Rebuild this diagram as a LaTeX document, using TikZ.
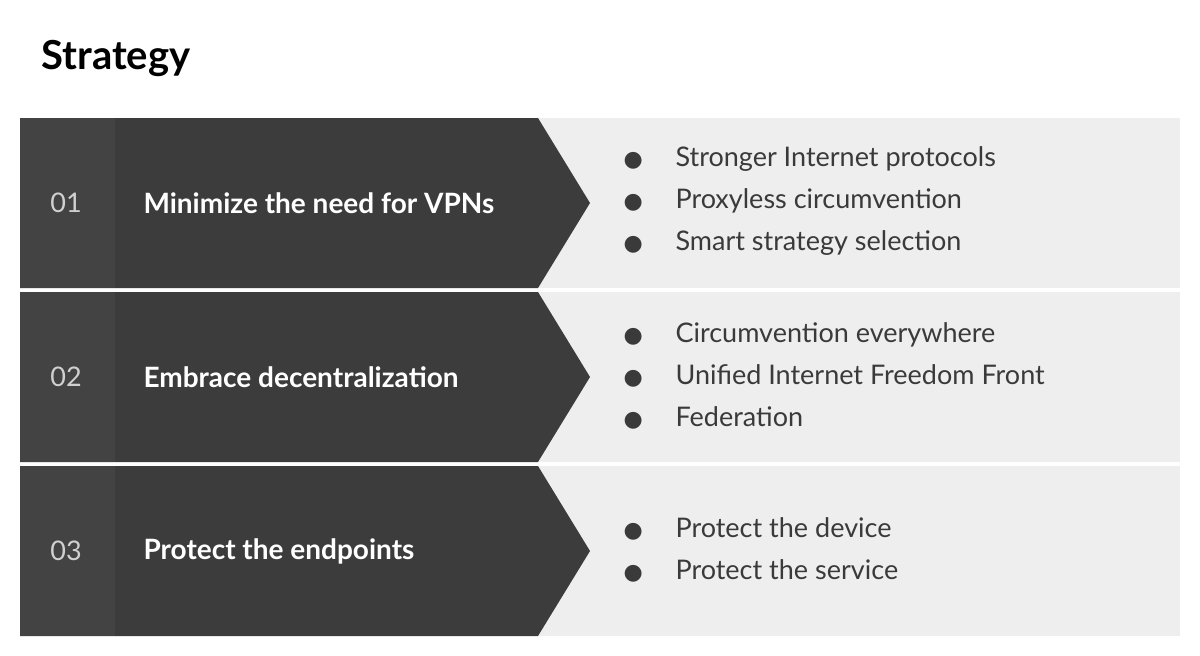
\documentclass[tikz,border=0pt]{standalone}
\usepackage{fontspec}
\setmainfont{Lato}
\newfontfamily\symfont{DejaVu Sans}
\usetikzlibrary{positioning}
\definecolor{darkrow}{HTML}{3C3C3C}
\definecolor{numstrip}{HTML}{434343}
\definecolor{lightrow}{HTML}{EEEEEE}
\definecolor{numtext}{HTML}{D0D0D0}
\definecolor{bullettext}{HTML}{3A3A3A}
\newcommand{\dotitem}{\makebox[52pt][l]{\symfont\fontsize{22}{42}\selectfont ●}}

\begin{document}
\begin{tikzpicture}[x=1pt,y=-1pt,
    numlabel/.style={text=numtext, font=\fontsize{27}{30}\selectfont\addfontfeature{Weight=300}, anchor=center},
    headlabel/.style={text=white, font=\fontsize{28}{32}\selectfont\bfseries, anchor=west},
    bulletlist/.style={text=bullettext, font=\fontsize{27}{42}\selectfont, anchor=west, align=left}
]
\useasboundingbox (0,0) rectangle (1200,656);
\fill[white] (0,0) rectangle (1200,656);

\node[anchor=west, font=\fontsize{40}{44}\selectfont\bfseries] (title) at (38,58) {Strategy};

% rows
\foreach \n/\top in {1/118, 2/292, 3/466}{
    \fill[lightrow] (20,\top) rectangle (1180,\top+170);
    \fill[darkrow] (20,\top) -- (538,\top) -- (590,\top+85) -- (538,\top+170) -- (20,\top+170) -- cycle;
    \fill[numstrip] (20,\top) rectangle (115,\top+170);
    \coordinate (row\n) at (0,\top+85);
}

\node[numlabel] (n1) at (66,203) {01};
\node[numlabel] (n2) at (66,377) {02};
\node[numlabel] (n3) at (66,551) {03};

\node[headlabel] (h1) at (140,203) {Minimize the need for VPNs};
\node[headlabel] (h2) at (140,377) {Embrace decentralization};
\node[headlabel] (h3) at (140,551) {Protect the endpoints};

\node[bulletlist] (b1) at (620,201) {\dotitem Stronger Internet protocols\\
    \dotitem Proxyless circumvention\\
    \dotitem Smart strategy selection};
\node[bulletlist] (b2) at (620,376) {\dotitem Circumvention everywhere\\
    \dotitem Unified Internet Freedom Front\\
    \dotitem Federation};
\node[bulletlist] (b3) at (620,550) {\dotitem Protect the device\\
    \dotitem Protect the service};

\end{tikzpicture}
\end{document}
